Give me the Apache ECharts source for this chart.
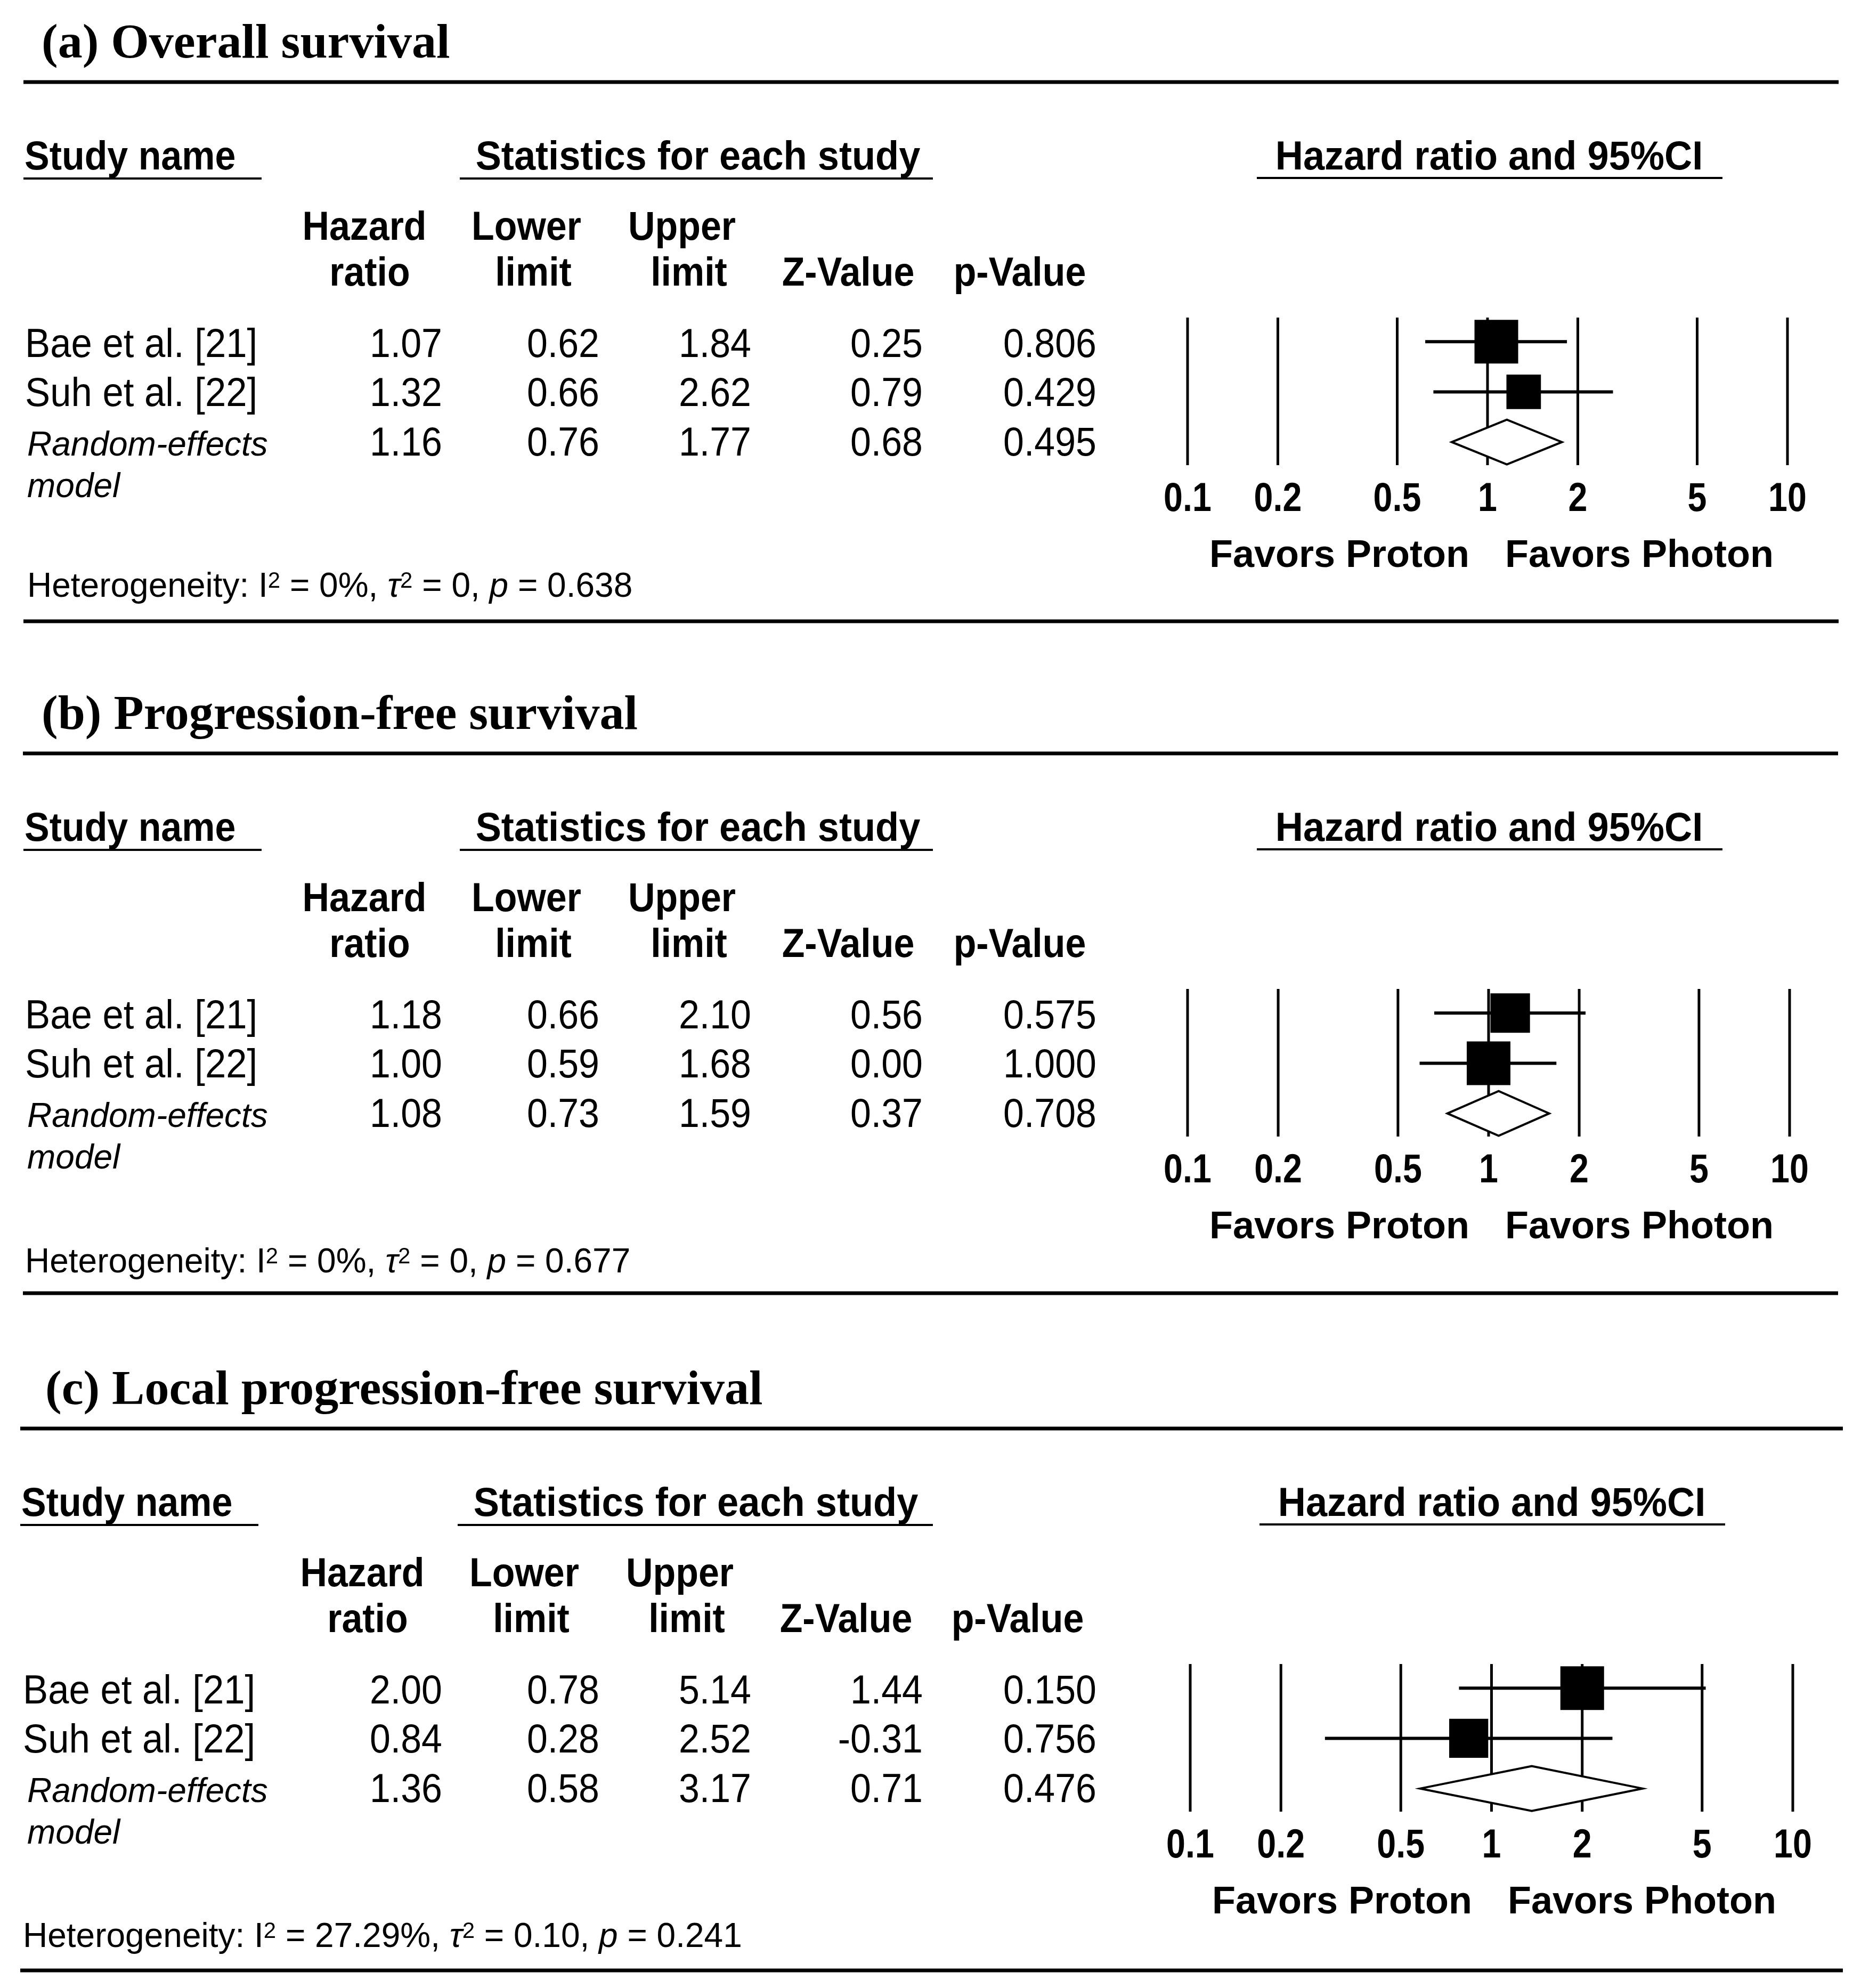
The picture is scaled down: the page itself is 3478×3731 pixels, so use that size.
<!DOCTYPE html>
<html><head><meta charset="utf-8">
<script src="https://cdn.jsdelivr.net/npm/echarts@6/dist/echarts.min.js"></script>
<style>html,body{margin:0;padding:0;background:#fff}#c{width:3478px;height:3731px}</style>
</head><body><div id="c"></div>
<script>
// ---------------- DATA ----------------
const panelTitles = ['(a) Overall survival', '(b) Progression-free survival', '(c) Local progression-free survival'];
const studyNames = ['Bae et al. [21]', 'Suh et al. [22]'];
const summaryName = ['Random-effects', 'model'];
const sectionHeaders = ['Study name', 'Statistics for each study', 'Hazard ratio and 95%CI'];
const headerLine1 = ['Hazard', 'Lower', 'Upper'];
const headerLine2 = ['ratio', 'limit', 'limit', 'Z-Value', 'p-Value'];
const tickValues = [0.1, 0.2, 0.5, 1, 2, 5, 10];
const tickLabels = ['0.1', '0.2', '0.5', '1', '2', '5', '10'];
const favorsLabels = ['Favors Proton', 'Favors Photon'];

// (a) Overall survival  [Bae, Suh, Random-effects]
const osHR = [1.07, 1.32, 1.16];
const osLower = [0.62, 0.66, 0.76];
const osUpper = [1.84, 2.62, 1.77];
const osZ = [0.25, 0.79, 0.68];
const osP = [0.806, 0.429, 0.495];
const osWeight = [61.6, 38.4];

// (b) Progression-free survival
const pfsHR = [1.18, 1.00, 1.08];
const pfsLower = [0.66, 0.59, 0.73];
const pfsUpper = [2.10, 1.68, 1.59];
const pfsZ = [0.56, 0.00, 0.37];
const pfsP = [0.575, 1.000, 0.708];
const pfsWeight = [45.0, 55.0];

// (c) Local progression-free survival
const lpfsHR = [2.00, 0.84, 1.36];
const lpfsLower = [0.78, 0.28, 0.58];
const lpfsUpper = [5.14, 2.52, 3.17];
const lpfsZ = [1.44, -0.31, 0.71];
const lpfsP = [0.150, 0.756, 0.476];
const lpfsWeight = [55.6, 44.4];

const hetI2 = ['0%', '0%', '27.29%'];
const hetTau2 = ['0', '0', '0.10'];
const hetP = ['0.638', '0.677', '0.241'];

// ---------------- LAYOUT ----------------
const panels = [
  {hr: osHR, lo: osLower, hi: osUpper, z: osZ, p: osP, w: osWeight},
  {hr: pfsHR, lo: pfsLower, hi: pfsUpper, z: pfsZ, p: pfsP, w: pfsWeight},
  {hr: lpfsHR, lo: lpfsLower, hi: lpfsUpper, z: lpfsZ, p: lpfsP, w: lpfsWeight}
];
const L = [
  {dy: 0,    titleX: 78, ruleL: 44, ruleR: 3451, nameX: 47, studyX: 46, hetX: 51, hetY: 1120, botY: 1166, fx0: 2229, fx1: 3355, hdx: 0},
  {dy: 1260, titleX: 78, ruleL: 43, ruleR: 3450, nameX: 47, studyX: 46, hetX: 47, hetY: 1128, botY: 1167, fx0: 2229, fx1: 3359, hdx: 0},
  {dy: 2527, titleX: 85, ruleL: 38, ruleR: 3459, nameX: 43, studyX: 40, hetX: 43, hetY: 1127, botY: 1171, fx0: 2234, fx1: 3365, hdx: -4}
];
const SANS = '"Liberation Sans", Arial, sans-serif';
const SERIF = '"Liberation Serif", "Times New Roman", serif';
const colRight = [830, 1125, 1410, 1732, 2058];
const h1X = [684, 988, 1280];
const h2X = [694, 1001, 1293, 1592, 1914];
const rowBase = [670, 762, 855];

function mid(baseline, size) { return baseline - 0.28 * size; }
function txt(x, y, text, font, align, scaleX) {
  return {type: 'text', x: x, y: y, scaleX: scaleX || 1, silent: true,
    style: {text: text, font: font, fill: '#000', align: align, textAlign: align,
      verticalAlign: 'middle', textVerticalAlign: 'middle'}};
}
function hline(x1, x2, y, w) {
  return {type: 'line', silent: true, shape: {x1: x1, y1: y, x2: x2, y2: y},
    style: {stroke: '#000', lineWidth: w}};
}

const graphics = [];
const grids = [], xAxes = [], yAxes = [], series = [];

panels.forEach(function (P, i) {
  const l = L[i], dy = l.dy;
  // title + rules
  graphics.push(txt(l.titleX, dy + 84, panelTitles[i], 'bold 92px ' + SERIF, 'left'));
  graphics.push(hline(l.ruleL, l.ruleR, dy + 154, 7));
  graphics.push(hline(l.ruleL, l.ruleR, l.botY + dy, 7));
  // section headers
  graphics.push(txt(l.studyX, dy + mid(318, 76), sectionHeaders[0], 'bold 76px ' + SANS, 'left', 0.92));
  graphics.push(hline(l.studyX - 2, l.studyX + 445, dy + 335, 4));
  graphics.push(txt(1310 + l.hdx, dy + mid(318, 76), sectionHeaders[1], 'bold 76px ' + SANS, 'center', 0.95));
  graphics.push(hline(863 + l.hdx, 1751, dy + 335, 4));
  graphics.push(txt(l.fx0 + 566, dy + mid(318, 76), sectionHeaders[2], 'bold 76px ' + SANS, 'center', 0.95));
  graphics.push(hline(l.fx0 + 130, l.fx0 + 1004, dy + 334, 4));
  // column headers
  headerLine1.forEach(function (h, k) {
    graphics.push(txt(h1X[k] + l.hdx, dy + mid(450, 76), h, 'bold 76px ' + SANS, 'center', 0.92));
  });
  headerLine2.forEach(function (h, k) {
    graphics.push(txt(h2X[k] + l.hdx, dy + mid(536, 76), h, 'bold 76px ' + SANS, 'center', 0.92));
  });
  // rows
  for (let r = 0; r < 3; r++) {
    const yb = dy + mid(rowBase[r], 76);
    if (r < 2) {
      graphics.push(txt(l.nameX, yb, studyNames[r], '76px ' + SANS, 'left', 0.93));
    } else {
      graphics.push(txt(51, dy + mid(855, 64), summaryName[0], 'italic 64px ' + SANS, 'left'));
      graphics.push(txt(51, dy + mid(933, 64), summaryName[1], 'italic 64px ' + SANS, 'left'));
    }
    const vals = [P.hr[r].toFixed(2), P.lo[r].toFixed(2), P.hi[r].toFixed(2), P.z[r].toFixed(2), P.p[r].toFixed(3)];
    vals.forEach(function (v, c) {
      graphics.push(txt(colRight[c], yb, v, '76px ' + SANS, 'right', 0.92));
    });
  }
  // heterogeneity
  graphics.push({type: 'text', x: l.hetX, y: dy + mid(l.hetY, 64), silent: true,
    style: {
      text: '{n|Heterogeneity: I}{s|2}{n| = ' + hetI2[i] + ', }{i|\u03c4}{s|2}{n| = ' + hetTau2[i] + ', }{i|p}{n| = ' + hetP[i] + '}',
      align: 'left', textAlign: 'left', verticalAlign: 'middle', textVerticalAlign: 'middle',
      rich: {
        n: {fontSize: 64, fontFamily: SANS, fill: '#000', color: '#000', lineHeight: 64},
        i: {fontSize: 64, fontFamily: SANS, fontStyle: 'italic', fill: '#000', color: '#000', lineHeight: 64},
        s: {fontSize: 42, fontFamily: SANS, fill: '#000', color: '#000', lineHeight: 38, verticalAlign: 'top'}
      }
    }});
  // favors labels
  graphics.push(txt(l.fx0 + 285, dy + 1044, favorsLabels[0], 'bold 72px ' + SANS, 'center'));
  graphics.push(txt(l.fx0 + 848, dy + 1044, favorsLabels[1], 'bold 72px ' + SANS, 'center'));

  // forest plot grid
  grids.push({left: l.fx0, top: 596 + dy, width: l.fx1 - l.fx0, height: 277});
  xAxes.push({type: 'log', logBase: 10, min: 0.1, max: 10, gridIndex: i, show: false});
  yAxes.push({type: 'value', min: -0.48, max: 2.46, inverse: true, gridIndex: i, show: false});

  series.push({
    type: 'custom', xAxisIndex: i, yAxisIndex: i, silent: true, clip: false, z: 1,
    data: tickValues.map(function (v) { return [v, 0]; }),
    encode: {x: 0, y: 1},
    renderItem: function (params, api) {
      const cs = params.coordSys;
      const x = api.coord([api.value(0), 0])[0];
      return {type: 'group', children: [
        {type: 'line', shape: {x1: x, y1: cs.y, x2: x, y2: cs.y + cs.height}, style: {stroke: '#000', lineWidth: 5}},
        {type: 'text', x: x, y: cs.y + cs.height + 65, scaleX: 0.85,
          style: {text: tickLabels[params.dataIndex], font: 'bold 76px ' + SANS, fill: '#000',
            align: 'center', textAlign: 'center', verticalAlign: 'middle', textVerticalAlign: 'middle'}}
      ]};
    }
  });
  const wmax = Math.max.apply(null, P.w);
  series.push({
    type: 'custom', xAxisIndex: i, yAxisIndex: i, silent: true, clip: false, z: 2,
    data: [0, 1].map(function (r) { return [P.hr[r], P.lo[r], P.hi[r], r, P.w[r]]; }),
    encode: {x: [0, 1, 2], y: 3},
    renderItem: function (params, api) {
      const y = api.coord([1, api.value(3)])[1];
      const xh = api.coord([api.value(0), 0])[0];
      const xl = api.coord([api.value(1), 0])[0];
      const xu = api.coord([api.value(2), 0])[0];
      const s = 82 * Math.sqrt(api.value(4) / wmax);
      return {type: 'group', children: [
        {type: 'line', shape: {x1: xl, y1: y, x2: xu, y2: y}, style: {stroke: '#000', lineWidth: 6}},
        {type: 'rect', shape: {x: xh - s / 2, y: y - s / 2, width: s, height: s}, style: {fill: '#000'}}
      ]};
    }
  });
  series.push({
    type: 'custom', xAxisIndex: i, yAxisIndex: i, silent: true, clip: false, z: 3,
    data: [[P.hr[2], P.lo[2], P.hi[2], 2]],
    encode: {x: [0, 1, 2], y: 3},
    renderItem: function (params, api) {
      const y = api.coord([1, api.value(3)])[1];
      const xh = api.coord([api.value(0), 0])[0];
      const xl = api.coord([api.value(1), 0])[0];
      const xu = api.coord([api.value(2), 0])[0];
      return {type: 'polygon', shape: {points: [[xl, y], [xh, y - 42], [xu, y], [xh, y + 42]]},
        style: {fill: '#fff', stroke: '#000', lineWidth: 4}};
    }
  });
});

const chart = echarts.init(document.getElementById('c'), null, {renderer: 'canvas', width: 3478, height: 3731});
chart.setOption({
  backgroundColor: '#fff',
  animation: false,
  grid: grids,
  xAxis: xAxes,
  yAxis: yAxes,
  series: series,
  graphic: {elements: graphics}
});
</script>
</body></html>
